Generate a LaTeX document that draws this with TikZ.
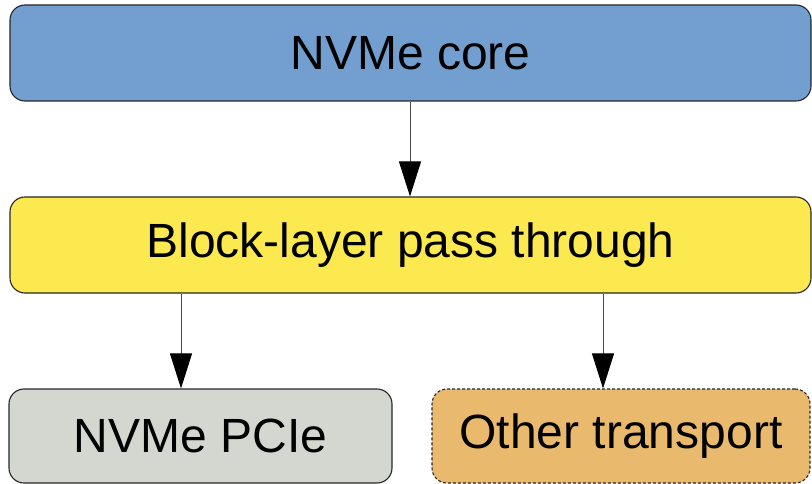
\documentclass[tikz,border=0pt]{standalone}
\usepackage{fontspec}
\setmainfont{Liberation Sans}
\usetikzlibrary{arrows.meta,positioning}
\definecolor{corecol}{HTML}{729FCF}
\definecolor{blkcol}{HTML}{FCE94F}
\definecolor{pciecol}{HTML}{D3D7CF}
\definecolor{othercol}{HTML}{E9B96E}
\tikzset{
  layer/.style={rounded corners=15pt,draw=black!85,line width=1.1pt,
                inner sep=0pt,font=\fontsize{48}{57}\selectfont},
  flow/.style={-{Triangle[length=35pt,width=22pt,color=black]},draw=black!70,line width=1pt},
}
\begin{document}
\begin{tikzpicture}[x=1pt,y=-1pt]
  \useasboundingbox (0,0) rectangle (812,484);
  \node[layer,fill=corecol,minimum width=801pt,minimum height=96pt] (core) at (410.5,53) {NVMe core};
  \node[layer,fill=blkcol,minimum width=801pt,minimum height=96pt] (blk) at (410.5,245) {Block-layer pass through};
  \node[layer,fill=pciecol,minimum width=383pt,minimum height=94pt] (pcie) at (200.5,436) {NVMe PCIe};
  \node[layer,fill=othercol,dash pattern=on 3pt off 2pt,minimum width=378pt,minimum height=94pt] (other) at (621,436) {Other transport};
  \draw[flow] (core.south -| 410,0) -- (blk.north -| 410,0);
  \foreach \t/\x in {pcie/181,other/603}
    {\draw[flow] (blk.south -| \x,0) -- (\t.north -| \x,0);}
\end{tikzpicture}
\end{document}
